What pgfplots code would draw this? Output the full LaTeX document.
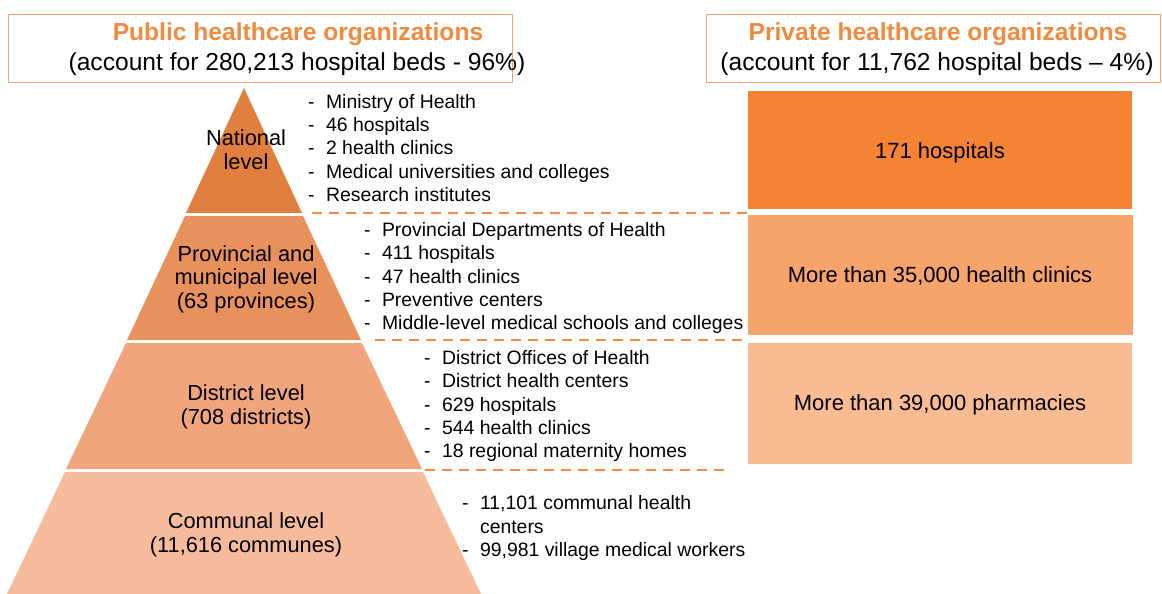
\documentclass[border=0pt]{standalone}
\usepackage{pgfplots}
\pgfplotsset{compat=1.18}
\usepackage{fontspec}
\setmainfont{Liberation Sans}
\definecolor{txt}{HTML}{3F3F3F}
\definecolor{ttl}{HTML}{F08A3E}
\definecolor{frame}{HTML}{F2A46E}
\definecolor{dashc}{HTML}{F08C44}
\definecolor{natl}{HTML}{E07F3E}
\definecolor{prov}{HTML}{E8915C}
\definecolor{dist}{HTML}{F0A57C}
\definecolor{comm}{HTML}{F5BB9C}
\definecolor{pa}{HTML}{F48334}
\definecolor{pb}{HTML}{F6A46C}
\definecolor{pc}{HTML}{F8BB92}
\newcommand{\li}[1]{\makebox[9pt][l]{-}#1}
\begin{document}
\begin{tikzpicture}
\begin{axis}[
  scale only axis, width=581pt, height=297pt,
  xmin=0, xmax=1162, ymin=0, ymax=594, y dir=reverse,
  hide axis, clip=false,
  every node/.style={text=txt},
]
  % invisible frame so the page covers the whole axis
  \addplot[draw=none, no marks] coordinates {(0,0) (1162,594)};
  % header frames
  \addplot[draw=frame, line width=0.5pt, no marks] coordinates {(8,14) (512,14) (512,82) (8,82)} -- cycle;
  \addplot[draw=frame, line width=0.5pt, no marks] coordinates {(706,14) (1160,14) (1160,82) (706,82)} -- cycle;
  % pyramid tiers
  \addplot[fill=natl, draw=none, no marks] coordinates {(244,88) (302,213) (186,213)} -- cycle;
  \addplot[fill=prov, draw=none, no marks] coordinates {(185,216) (303,216) (361,340) (127,340)} -- cycle;
  \addplot[fill=dist, draw=none, no marks] coordinates {(126,343) (362,343) (422,469) (66,469)} -- cycle;
  \addplot[fill=comm, draw=none, no marks] coordinates {(65,472) (423,472) (481,594) (7,594)} -- cycle;
  % private boxes
  \addplot[fill=pa, draw=none, no marks] coordinates {(748,91) (1132,91) (1132,209) (748,209)} -- cycle;
  \addplot[fill=pb, draw=none, no marks] coordinates {(748,215) (1133,215) (1133,335) (748,335)} -- cycle;
  \addplot[fill=pc, draw=none, no marks] coordinates {(748,343) (1132,343) (1132,464) (748,464)} -- cycle;
  % dashed separators
  \addplot[dashc, line width=1.2pt, dash pattern=on 5pt off 3.5pt, no marks] coordinates {(312,213) (750,213)};
  \addplot[dashc, line width=1.2pt, dash pattern=on 5pt off 3.5pt, no marks] coordinates {(375,340) (748,340)};
  \addplot[dashc, line width=1.2pt, dash pattern=on 5pt off 3.5pt, no marks] coordinates {(425,470) (726,470)};
  % headers
  \node[font=\fontsize{12.3}{14}\selectfont\bfseries, text=ttl] at (axis cs:298,34) {Public healthcare organizations};
  \node[font=\fontsize{12.3}{14}\selectfont] at (axis cs:297,64) {(account for 280,213 hospital beds - 96\%)};
  \node[font=\fontsize{12.3}{14}\selectfont\bfseries, text=ttl] at (axis cs:938,34) {Private healthcare organizations};
  \node[font=\fontsize{12.3}{14}\selectfont] at (axis cs:937,64) {(account for 11,762 hospital beds -- 4\%)};
  % tier labels
  \node[font=\fontsize{10.9}{11.8}\selectfont, align=center] at (axis cs:246,150) {National\\level};
  \node[font=\fontsize{10.9}{11.8}\selectfont, align=center] at (axis cs:246,279) {Provincial and\\municipal level\\(63 provinces)};
  \node[font=\fontsize{10.9}{11.8}\selectfont, align=center] at (axis cs:246,407) {District level\\(708 districts)};
  \node[font=\fontsize{10.9}{11.8}\selectfont, align=center] at (axis cs:246,535) {Communal level\\(11,616 communes)};
  % lists
  \node[font=\fontsize{9.7}{11.6}\selectfont, align=left, anchor=west] at (axis cs:301,148) {\li{Ministry of Health}\\\li{46 hospitals}\\\li{2 health clinics}\\\li{Medical universities and colleges}\\\li{Research institutes}};
  \node[font=\fontsize{9.7}{11.6}\selectfont, align=left, anchor=west] at (axis cs:357,278) {\li{Provincial Departments of Health}\\\li{411 hospitals}\\\li{47 health clinics}\\\li{Preventive centers}\\\li{Middle-level medical schools and colleges}};
  \node[font=\fontsize{9.7}{11.6}\selectfont, align=left, anchor=west] at (axis cs:417,406) {\li{District Offices of Health}\\\li{District health centers}\\\li{629 hospitals}\\\li{544 health clinics}\\\li{18 regional maternity homes}};
  \node[font=\fontsize{9.7}{11.6}\selectfont, align=left, anchor=west] at (axis cs:455,528) {\li{11,101 communal health}\\\hspace*{9pt}centers\\\li{99,981 village medical workers}};
  % private box labels
  \node[font=\fontsize{11}{12}\selectfont] at (axis cs:940,153) {171 hospitals};
  \node[font=\fontsize{11}{12}\selectfont] at (axis cs:940,276) {More than 35,000 health clinics};
  \node[font=\fontsize{11}{12}\selectfont] at (axis cs:940,405) {More than 39,000 pharmacies};
\end{axis}
\end{tikzpicture}
\end{document}
